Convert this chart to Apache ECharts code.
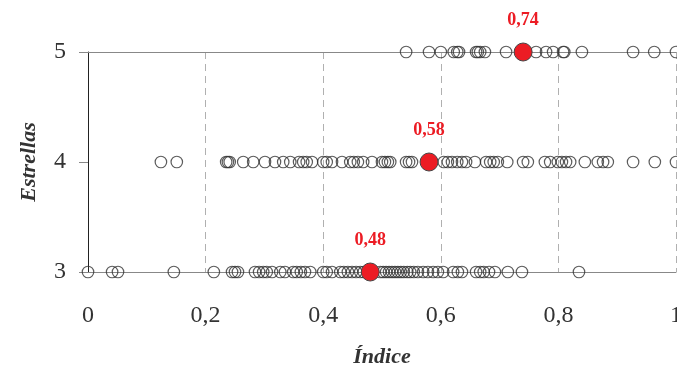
<!DOCTYPE html>
<html>
<head>
<meta charset="utf-8">
<script src="https://cdn.jsdelivr.net/npm/echarts@6/dist/echarts.min.js"></script>
<style>html,body{margin:0;padding:0;background:#fff}#c{width:677px;height:374px}</style>
</head>
<body>
<div id="c"></div>
<script>
// Star levels (categories on the y axis)
const starLevels = [3, 4, 5];
const yTicks = ['3', '4', '5'];
const xTicks = ['0', '0,2', '0,4', '0,6', '0,8', '1'];

// Índice values for each star level
const stars5 = [0.541, 0.580, 0.600, 0.622, 0.628, 0.631, 0.660, 0.663, 0.667, 0.675, 0.711,
  0.762, 0.779, 0.791, 0.808, 0.810, 0.840, 0.927, 0.963, 1.0];

const stars4 = [0.124, 0.151, 0.235, 0.238, 0.241, 0.264, 0.281, 0.301, 0.318, 0.332, 0.344,
  0.359, 0.366, 0.372, 0.381, 0.400, 0.406, 0.415, 0.432, 0.446, 0.452, 0.459, 0.468,
  0.483, 0.500, 0.505, 0.510, 0.514, 0.541, 0.546, 0.551, 0.605, 0.612, 0.619, 0.628,
  0.636, 0.643, 0.658, 0.677, 0.684, 0.690, 0.697, 0.713, 0.740, 0.748, 0.777, 0.786,
  0.799, 0.806, 0.813, 0.820, 0.845, 0.867, 0.876, 0.884, 0.927, 0.964, 1.0];

const stars3 = [0, 0.041, 0.051, 0.146, 0.214, 0.245, 0.250, 0.255, 0.284, 0.291, 0.298,
  0.304, 0.313, 0.327, 0.335, 0.349, 0.355, 0.362, 0.369, 0.378, 0.400, 0.406, 0.415,
  0.429, 0.435, 0.442, 0.449, 0.456, 0.463, 0.469, 0.476, 0.497, 0.502, 0.507, 0.512,
  0.517, 0.522, 0.527, 0.532, 0.537, 0.543, 0.548, 0.554, 0.561, 0.570, 0.578, 0.587,
  0.595, 0.604, 0.621, 0.629, 0.636, 0.660, 0.667, 0.673, 0.682, 0.692, 0.714, 0.738, 0.835];

// Mean índice per star level (3, 4, 5)
const means = [0.48, 0.58, 0.74];

const serif = '"Liberation Serif", "DejaVu Serif", serif';
const fmt = v => String(v).replace('.', ',');

const pts = (arr, s) => arr.map(v => [v, s]);

const chart = echarts.init(document.getElementById('c'));
chart.setOption({
  animation: false,
  grid: { left: 88, right: 1, top: 52, bottom: 102, containLabel: false, outerBoundsMode: 'none' },
  xAxis: [{
    type: 'value', min: 0, max: 1, interval: 0.2,
    name: 'Índice', nameLocation: 'middle', nameGap: 74,
    nameTextStyle: { fontFamily: serif, fontSize: 22, fontStyle: 'italic', fontWeight: 'bold', color: '#333' },
    axisLine: { show: true, lineStyle: { color: '#888', width: 1 } },
    axisTick: { show: false },
    axisLabel: { fontFamily: serif, fontSize: 24, color: '#333', margin: 32,
      formatter: v => xTicks[Math.round(v / 0.2)] },
    splitLine: { show: true, lineStyle: { color: '#b0b0b0', type: [7, 5], width: 1 } }
  }, {
    type: 'value', min: 0, max: 1, position: 'top',
    axisLine: { show: true, lineStyle: { color: '#888', width: 1 } },
    axisTick: { show: false }, axisLabel: { show: false }, splitLine: { show: false }
  }],
  yAxis: {
    type: 'value', min: 3, max: 5, interval: 1,
    name: 'Estrellas', nameLocation: 'middle', nameGap: 48,
    nameTextStyle: { fontFamily: serif, fontSize: 22, fontStyle: 'italic', fontWeight: 'bold', color: '#333' },
    axisLine: { show: true, lineStyle: { color: '#222', width: 1 } },
    axisTick: { show: true, length: 9, lineStyle: { color: '#888' } },
    axisLabel: { fontFamily: serif, fontSize: 24, color: '#333', margin: 22,
      formatter: v => yTicks[starLevels.indexOf(v)] },
    splitLine: { show: false }
  },
  series: [
    ...[stars3, stars4, stars5].map((arr, i) => ({
      type: 'scatter', data: pts(arr, starLevels[i]), symbol: 'circle', symbolSize: 11.5,
      itemStyle: { color: 'rgba(255,255,255,0)', borderColor: '#333', borderWidth: 1.2 },
      z: 2, silent: true
    })),
    {
      type: 'scatter', data: means.map((m, i) => [m, starLevels[i]]), symbolSize: 18,
      itemStyle: { color: '#ec1c24', borderColor: '#444', borderWidth: 1, opacity: 1 },
      label: { show: true, position: 'top', distance: 13, formatter: p => fmt(p.value[0]),
        fontFamily: serif, fontSize: 18, fontWeight: 'bold', color: '#ec1c24' },
      z: 5
    }
  ]
});
</script>
</body>
</html>
